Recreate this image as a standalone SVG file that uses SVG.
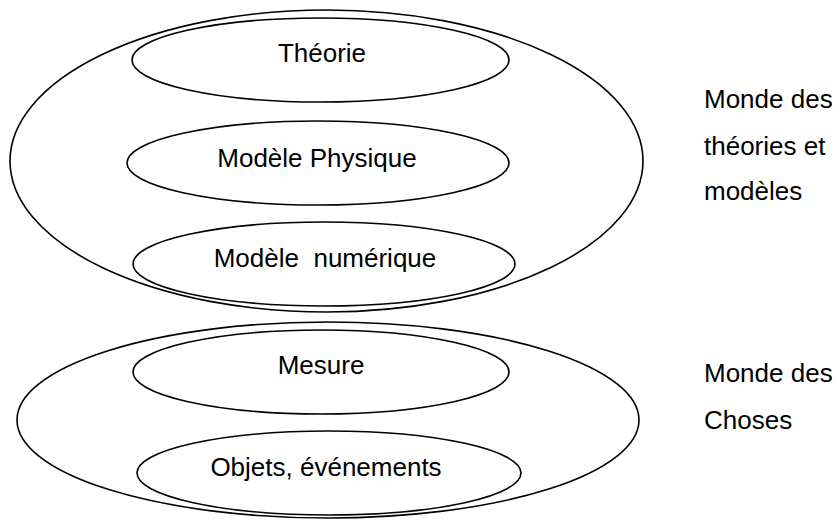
<svg xmlns="http://www.w3.org/2000/svg" width="837" height="521" viewBox="0 0 837 521">
<style>
.e{fill:none;stroke:#000;stroke-width:1.6}
.t{font-family:"Liberation Sans",Arial,sans-serif;font-size:26px;fill:#000;white-space:pre}
.c{text-anchor:middle}
</style>
<rect width="837" height="521" fill="#fff"/>
<g id="monde-theories">
<ellipse class="e" cx="326.5" cy="161" rx="316.5" ry="151"/>
</g>
<g id="theorie">
<ellipse class="e" cx="320.5" cy="60" rx="188.5" ry="42"/>
<text class="t c" x="322" y="62">Théorie</text>
</g>
<g id="modele-physique">
<ellipse class="e" cx="318" cy="163" rx="191" ry="42"/>
<text class="t c" x="317" y="167">Modèle Physique</text>
</g>
<g id="modele-numerique">
<ellipse class="e" cx="324" cy="264" rx="191" ry="42"/>
<text class="t c" x="325" y="267" xml:space="preserve">Modèle  numérique</text>
</g>
<g id="monde-choses">
<ellipse class="e" cx="328" cy="420" rx="311" ry="98"/>
</g>
<g id="mesure">
<ellipse class="e" cx="321" cy="372" rx="188" ry="42"/>
<text class="t c" x="321" y="374">Mesure</text>
</g>
<g id="objets">
<ellipse class="e" cx="329" cy="473" rx="192" ry="42"/>
<text class="t c" x="326" y="476">Objets, événements</text>
</g>
<g id="label-theories">
<text class="t" x="704" y="108">Monde des</text>
<text class="t" x="704" y="155">théories et</text>
<text class="t" x="704" y="200">modèles</text>
</g>
<g id="label-choses">
<text class="t" x="704" y="382">Monde des</text>
<text class="t" x="704" y="429">Choses</text>
</g>
<g id="connectors"></g>
</svg>
